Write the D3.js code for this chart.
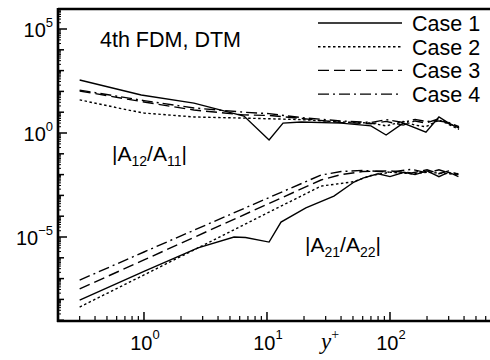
<!DOCTYPE html>
<html>
<head>
<meta charset="utf-8">
<script src="https://cdn.jsdelivr.net/npm/d3@7"></script>
<style>
  body { margin: 0; background: #fff; }
  svg { display: block; }
</style>
</head>
<body>
<script>
// values: [y+, ratio]
const caseNames = ["Case 1", "Case 2", "Case 3", "Case 4"];
const caseDash = [null, "2.5,2.5", "11,5", "11,4,2,4"];

const case1A12 = [[0.30, 355], [0.95, 67], [2.55, 27.5], [6.5, 6.5], [10.4, 0.46], [13.5, 3.0], [19, 3.4], [40, 3.0], [70, 2.2], [93, 0.8], [128, 3.0], [196, 1.1], [250, 5.9], [300, 3.0], [364, 1.7]];
const case2A12 = [[0.30, 39], [0.74, 12.8], [1.0, 9.1], [2.55, 5.9], [6.5, 5.2], [19, 4.4], [40, 3.4], [70, 3.0], [93, 2.2], [128, 3.6], [160, 2.4], [196, 2.0], [250, 4.2], [300, 2.6], [364, 1.5]];
const case3A12 = [[0.30, 105], [1.0, 31], [2.55, 12.7], [6.5, 7.4], [10.4, 7.0], [19, 5.0], [40, 3.2], [70, 2.8], [93, 3.6], [128, 2.4], [160, 3.8], [196, 3.0], [250, 4.8], [300, 2.8], [364, 1.8]];
const case4A12 = [[0.30, 115], [1.0, 36], [2.55, 16], [6.5, 10], [10.4, 8.5], [19, 5.5], [40, 3.8], [70, 3.2], [93, 4.4], [128, 3.2], [160, 4.5], [196, 3.6], [250, 3.8], [300, 3.2], [364, 2.0]];

const case1A21 = [[0.30, 9.3e-9], [1.0, 2.2e-7], [2.75, 3.0e-6], [5.4, 1.0e-5], [6.7, 9.5e-6], [10.4, 5.7e-6], [13, 5.2e-5], [20.7, 2.5e-4], [35, 9.3e-4], [51, 4.4e-3], [61, 6.9e-3], [80, 1.1e-2], [100, 8e-3], [130, 1.3e-2], [160, 1.0e-2], [200, 1.5e-2], [250, 8e-3], [300, 1.3e-2], [360, 8e-3]];
const case2A21 = [[0.30, 4.3e-9], [1.0, 1.5e-7], [2.75, 3.0e-6], [10, 1.4e-4], [27.5, 2.8e-3], [50, 4.5e-3], [70, 9e-3], [100, 1.3e-2], [150, 1.1e-2], [200, 1.3e-2], [300, 1.1e-2], [360, 1.0e-2]];
const case3A21 = [[0.30, 3.2e-8], [1.0, 7.9e-7], [10.4, 4.1e-4], [27.5, 5.5e-3], [40, 1.0e-2], [60, 1.4e-2], [100, 1.5e-2], [150, 1.2e-2], [200, 1.7e-2], [250, 1.1e-2], [300, 1.5e-2], [360, 1.0e-2]];
const case4A21 = [[0.30, 8.5e-8], [1.0, 1.9e-6], [10.4, 7.9e-4], [27.5, 9.5e-3], [40, 1.4e-2], [60, 1.6e-2], [100, 1.3e-2], [150, 1.8e-2], [200, 1.2e-2], [250, 1.7e-2], [300, 1.2e-2], [360, 1.1e-2]];

const upperSeries = [case1A12, case2A12, case3A12, case4A12];
const lowerSeries = [case1A21, case2A21, case3A21, case4A21];

const xLabelExp = [0, 1, 2];
const yLabelExp = [5, 0, -5];

const width = 490, height = 360;
const sans = "'Liberation Sans', Arial, Helvetica, sans-serif";

const x = d3.scaleLog().domain([0.2, 1000]).range([58, 513]);
const y = d3.scaleLog().domain([1e-9, 1e6]).range([320.2, 8.2]);

const svg = d3.select("body").append("svg")
  .attr("width", width)
  .attr("height", height);

// ticks (all pointing inward)
const xMinor = [], xMajor = [];
for (let d = -1; d <= 3; d++) {
  for (let k = 1; k <= 9; k++) {
    const v = k * Math.pow(10, d);
    if (v < 0.2 || v > 1000) continue;
    (k === 1 ? xMajor : xMinor).push(v);
  }
}
const yMinor = [], yMajor = [];
for (let d = -9; d <= 5; d++) {
  yMajor.push(Math.pow(10, d));
  for (let k = 2; k <= 9; k++) yMinor.push(k * Math.pow(10, d));
}

const ticks = svg.append("g").attr("stroke", "#000");
ticks.selectAll(".xm").data(xMinor).join("line")
  .attr("x1", d => x(d)).attr("x2", d => x(d))
  .attr("y1", 320).attr("y2", 316).attr("stroke-width", 1.2);
ticks.selectAll(".xM").data(xMajor).join("line")
  .attr("x1", d => x(d)).attr("x2", d => x(d))
  .attr("y1", 320).attr("y2", 312).attr("stroke-width", 1.5);
ticks.selectAll(".ym").data(yMinor).join("line")
  .attr("x1", 58).attr("x2", 61)
  .attr("y1", d => y(d)).attr("y2", d => y(d)).attr("stroke-width", 1);
ticks.selectAll(".yM").data(yMajor).join("line")
  .attr("x1", 58).attr("x2", d => yLabelExp.includes(Math.round(Math.log10(d))) ? 67 : 64)
  .attr("y1", d => y(d)).attr("y2", d => y(d)).attr("stroke-width", 1.5);

// frame
svg.append("path")
  .attr("d", `M58,9 H492 M58,8 V322 M57,321 H492`)
  .attr("fill", "none")
  .attr("stroke", "#000")
  .attr("stroke-width", 2.6);

// tick labels
const yLab = svg.append("g").attr("font-family", sans).attr("text-anchor", "end");
yLabelExp.forEach(e => {
  const t = yLab.append("text")
    .attr("x", 53)
    .attr("y", y(Math.pow(10, e)) + 8)
    .attr("font-size", 20);
  t.append("tspan").text("10");
  t.append("tspan").attr("dy", -10).attr("font-size", 13).text(e < 0 ? "\u2212" + (-e) : e);
});

const xLab = svg.append("g").attr("font-family", sans).attr("text-anchor", "middle");
xLabelExp.forEach(e => {
  const t = xLab.append("text")
    .attr("x", x(Math.pow(10, e)) + 1)
    .attr("y", 350)
    .attr("font-size", 20);
  t.append("tspan").text("10");
  t.append("tspan").attr("dy", -11).attr("font-size", 13).text(e);
});

const yp = svg.append("text")
  .attr("x", 321).attr("y", 349)
  .attr("font-family", "'Liberation Serif', 'Times New Roman', serif")
  .attr("font-style", "italic")
  .attr("font-size", 23);
yp.append("tspan").text("y");
yp.append("tspan").attr("dy", -10).attr("font-size", 14).attr("font-style", "normal").text("+");

// curves
const line = d3.line()
  .x(d => x(d[0]))
  .y(d => y(d[1]));

const curves = svg.append("g")
  .attr("fill", "none")
  .attr("stroke", "#000")
  .attr("stroke-width", 1.4);

[upperSeries, lowerSeries].forEach(group => {
  curves.selectAll(null)
    .data(group)
    .join("path")
    .attr("d", line)
    .attr("stroke-dasharray", (d, i) => caseDash[i]);
});

// annotations
svg.append("text")
  .attr("x", 100).attr("y", 47)
  .attr("font-family", sans).attr("font-size", 21.5)
  .text("4th FDM, DTM");

function ratioLabel(px, py, a, b) {
  const t = svg.append("text")
    .attr("x", px).attr("y", py)
    .attr("font-family", sans).attr("font-size", 21);
  t.append("tspan").text("|A");
  t.append("tspan").attr("dy", 5).attr("font-size", 14).text(a);
  t.append("tspan").attr("dy", -5).text("/A");
  t.append("tspan").attr("dy", 5).attr("font-size", 14).text(b);
  t.append("tspan").attr("dy", -5).text("|");
}
ratioLabel(112, 161, "12", "11");
ratioLabel(305, 252, "21", "22");

// legend
const legend = svg.append("g").attr("font-family", sans).attr("font-size", 21.5);
caseNames.forEach((name, i) => {
  const by = 31 + i * 23.7;
  legend.append("line")
    .attr("x1", 318).attr("x2", 402)
    .attr("y1", by - 8).attr("y2", by - 8)
    .attr("stroke", "#000")
    .attr("stroke-width", 1.4)
    .attr("stroke-dasharray", caseDash[i]);
  legend.append("text")
    .attr("x", 412).attr("y", by)
    .text(name);
});
</script>
</body>
</html>
